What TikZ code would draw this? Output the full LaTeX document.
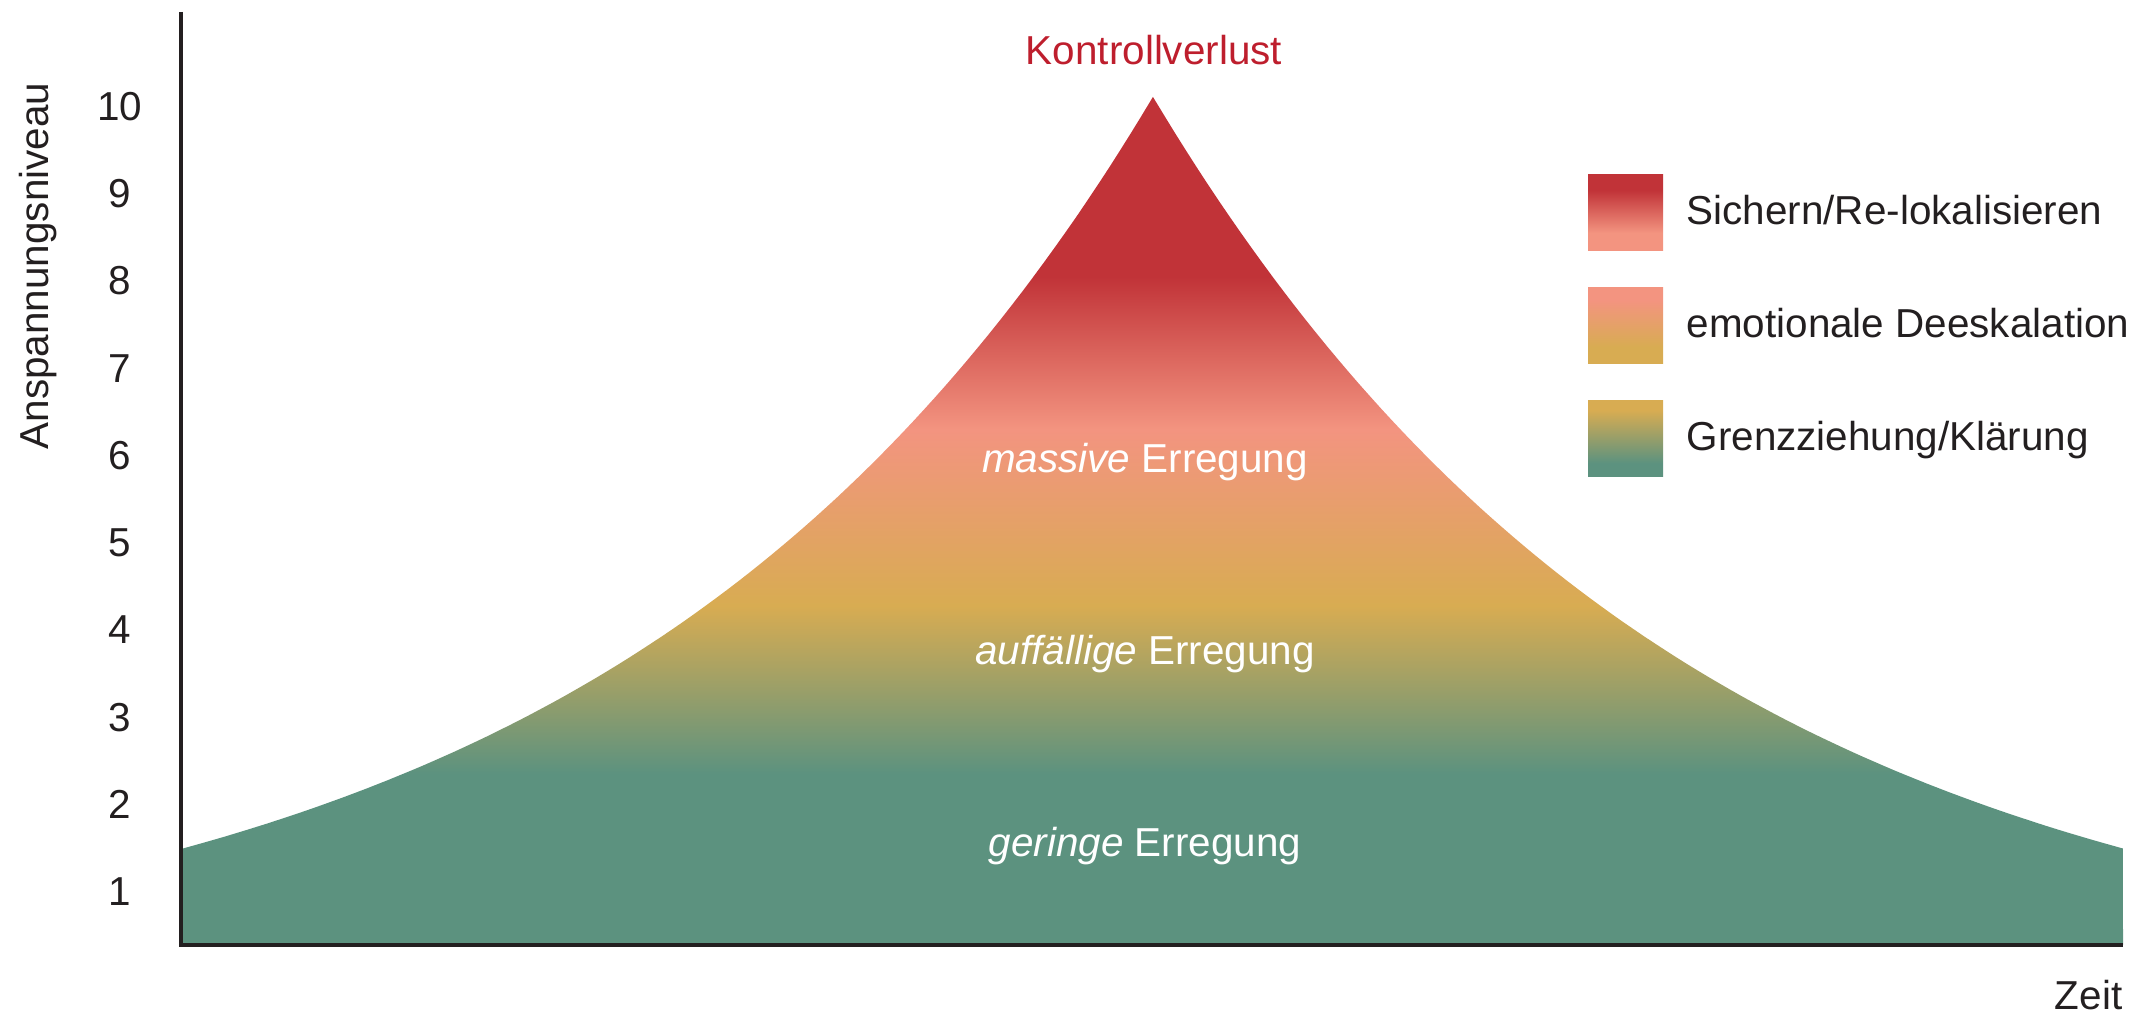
\documentclass[tikz,border=0pt]{standalone}
\usepackage{fontspec}
\setmainfont{Liberation Sans}
\usetikzlibrary{positioning}

\definecolor{levelred}{RGB}{193,51,56}
\definecolor{levelsalmon}{RGB}{243,148,128}
\definecolor{levelgold}{RGB}{216,172,82}
\definecolor{levelgreen}{RGB}{92,146,127}
\definecolor{losscolor}{RGB}{190,30,45}
\definecolor{ink}{RGB}{35,31,32}

% 渐变：绿 -> 金 -> 橙粉 -> 红
\pgfdeclareverticalshading{arousal}{100bp}{color(0bp)=(levelgreen); color(35.1bp)=(levelgreen); color(45bp)=(levelgold); color(55.4bp)=(levelsalmon); color(64.4bp)=(levelred); color(100bp)=(levelred)}
\pgfdeclareverticalshading{legendred}{100bp}{color(0bp)=(levelsalmon); color(36.8bp)=(levelsalmon); color(65bp)=(levelred); color(100bp)=(levelred)}
\pgfdeclareverticalshading{legendsalmon}{100bp}{color(0bp)=(levelgold); color(36bp)=(levelgold); color(67bp)=(levelsalmon); color(100bp)=(levelsalmon)}
\pgfdeclareverticalshading{legendgold}{100bp}{color(0bp)=(levelgreen); color(34bp)=(levelgreen); color(69bp)=(levelgold); color(100bp)=(levelgold)}

\begin{document}
\begin{tikzpicture}[font=\fontsize{11.5}{13.8}\selectfont, text=ink,
    ticklabel/.style={anchor=center, inner sep=0pt},
    zonelabel/.style={anchor=base, text=white, inner sep=0pt},
    swatch/.style={shade, minimum width=0.75cm, minimum height=0.76cm, inner sep=0pt, outer sep=0pt},
    legendtext/.style={inner sep=0pt, text height=1.5ex, text depth=.25ex}]
    \useasboundingbox (-1.81,-0.74) rectangle (19.60,9.45);

    \coordinate (origin) at (0,0);
    \coordinate (ytop) at (0,9.33);
    \coordinate (xend) at (19.42,0);
    \coordinate (peak) at (9.72,8.48);

    % 曲线
    \shade[shading=arousal] (origin)
        -- plot[domain=0:9.72, samples=90] (\x, {8.98*exp(-(9.72-\x)/5.35)-0.5})
        -- plot[domain=9.72:19.42, samples=90] (\x, {8.98*exp(-(\x-9.72)/5.35)-0.5})
        -- (xend) -- cycle;

    % 坐标轴
    \draw[ink, line width=0.04cm] (ytop) -- (origin) -- (xend);
    \foreach \lvl in {1,...,10}
        \node[ticklabel] (tick\lvl) at (-0.61, {0.534+(\lvl-1)*0.8723}) {\lvl};
    \node[rotate=90] (ylabel) at (-1.43, 6.79) {Anspannungsniveau};
    \node[anchor=base east, inner sep=0pt] (zeit) at (19.42,-0.65) {Zeit};

    % 顶点与区域标注
    \node[anchor=base, text=losscolor, inner sep=0pt] (loss) at (9.73,8.80) {Kontrollverlust};
    \node[zonelabel] (massiv) at (9.64,4.72) {\textit{massive} Erregung};
    \node[zonelabel] (auffaellig) at (9.64,2.80) {\textit{auffällige} Erregung};
    \node[zonelabel] (gering) at (9.64,0.88) {\textit{geringe} Erregung};

    % 图例
    \node[swatch, shading=legendred] (sw1) at (14.445,7.32) {};
    \node[swatch, shading=legendsalmon, below=0.37cm of sw1] (sw2) {};
    \node[swatch, shading=legendgold, below=0.37cm of sw2] (sw3) {};
    \node[legendtext, right=0.23cm of sw1] (lg1) {Sichern/Re-lokalisieren};
    \node[legendtext, right=0.23cm of sw2] (lg2) {emotionale Deeskalation};
    \node[legendtext, right=0.23cm of sw3] (lg3) {Grenzziehung/Klärung};
\end{tikzpicture}
\end{document}
